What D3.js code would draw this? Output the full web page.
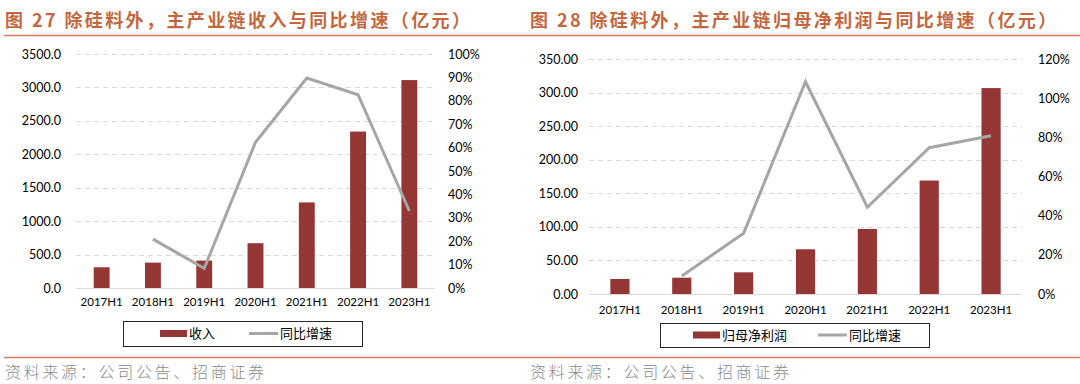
<!DOCTYPE html>
<html>
<head>
<meta charset="utf-8">
<script src="https://cdn.jsdelivr.net/npm/d3@7"></script>
<style>
  body { margin: 0; background: #fff; }
  svg text { font-family: Lato, "Noto Sans CJK SC", sans-serif; }
  .cjk { font-family: "Noto Sans CJK SC", sans-serif; }
</style>
</head>
<body>
<svg id="chart" width="1080" height="384"></svg>
<script>
  // categories shared by both panels
  const categories = ["2017H1", "2018H1", "2019H1", "2020H1", "2021H1", "2022H1", "2023H1"];

  // figure 27: revenue (亿元) and yoy growth (%)
  const revenue = [310, 380, 410, 670, 1280, 2340, 3110];
  const revenueYoY = [null, 20.9, 8.4, 62.3, 89.7, 82.6, 32.9];
  const revenueTicks = [0, 500, 1000, 1500, 2000, 2500, 3000, 3500];
  const revenuePctTicks = [0, 10, 20, 30, 40, 50, 60, 70, 80, 90, 100];

  // figure 28: net profit attributable to parent (亿元) and yoy growth (%)
  const profit = [22.4, 24.3, 32.3, 66.6, 96.9, 169, 306.7];
  const profitYoY = [null, 9.2, 31.0, 108.4, 44.3, 74.7, 80.8];
  const profitTicks = [0, 50, 100, 150, 200, 250, 300, 350];
  const profitPctTicks = [0, 20, 40, 60, 80, 100, 120];

  const titles = ["图 27  除硅料外，主产业链收入与同比增速（亿元）", "图 28  除硅料外，主产业链归母净利润与同比增速（亿元）"];
  const source = "资料来源：公司公告、招商证券";

  const colors = { bar: "#943634", line: "#a6a6a6", grid: "#d9d9d9", title: "#c4673e", rule: "#d27c5c" };

  const svg = d3.select("#chart");

  // header / footer rules across the whole page
  svg.append("line").attr("x1", 4).attr("x2", 1080).attr("y1", 35.5).attr("y2", 35.5)
    .attr("stroke", colors.rule).attr("stroke-width", 1.5);
  svg.append("line").attr("x1", 4).attr("x2", 1080).attr("y1", 357.5).attr("y2", 357.5)
    .attr("stroke", colors.rule).attr("stroke-width", 1.5);

  // draw one bar + line panel
  function drawPanel(p) {
    const g = svg.append("g");

    g.append("text").attr("class", "cjk")
      .attr("x", p.titleX).attr("y", 27)
      .attr("fill", colors.title).style("font-weight", "bold")
      .style("font-size", "18px").style("letter-spacing", "2.4px")
      .text(p.title);

    g.append("text").attr("class", "cjk")
      .attr("x", p.titleX).attr("y", 378)
      .attr("fill", "#8c8c8c").style("font-size", "16px").style("font-weight", 300)
      .style("letter-spacing", "2.7px")
      .text(source);

    const x = d3.scaleBand().domain(categories)
      .range([p.left, p.right]).paddingInner(0.69).paddingOuter(0.345);
    const y = d3.scaleLinear().domain([0, d3.max(p.ticks)]).range([p.bottom, p.top]);
    const y2 = d3.scaleLinear().domain([0, d3.max(p.pctTicks)]).range([p.bottom, p.top]);

    // dashed grid
    g.selectAll(".grid").data(p.ticks.filter(d => d > 0)).enter()
      .append("line")
        .attr("x1", p.left).attr("x2", p.right)
        .attr("y1", d => Math.round(y(d)) + 0.5).attr("y2", d => Math.round(y(d)) + 0.5)
        .attr("stroke", colors.grid).attr("stroke-dasharray", "5,4");
    g.append("line")
      .attr("x1", p.left).attr("x2", p.right)
      .attr("y1", Math.round(y(0)) + 0.5).attr("y2", Math.round(y(0)) + 0.5)
      .attr("stroke", colors.grid);

    // left axis
    const axL = g.append("g").attr("transform", "translate(" + p.leftLabelX + ",0)")
      .call(d3.axisLeft(y).tickValues(p.ticks).tickSize(0).tickPadding(0).tickFormat(d3.format(p.fmt)));
    axL.select(".domain").remove();
    axL.selectAll("text").style("font-size", "12.5px").attr("fill", "#000").style("font-family", "Lato");

    // right axis
    const axR = g.append("g").attr("transform", "translate(" + p.rightLabelX + ",0)")
      .call(d3.axisRight(y2).tickValues(p.pctTicks).tickSize(0).tickPadding(0).tickFormat(d => d + "%"));
    axR.select(".domain").remove();
    axR.selectAll("text").style("font-size", "12.5px").attr("fill", "#000").style("font-family", "Lato");

    // bottom axis labels
    const axB = g.append("g").attr("transform", "translate(0," + p.bottom + ")")
      .call(d3.axisBottom(x).tickSize(0).tickPadding(p.xPad));
    axB.select(".domain").remove();
    axB.selectAll("text").style("font-size", "11.5px").attr("fill", "#000").style("font-family", "Lato");

    // bars
    g.selectAll(".bar").data(p.bars).enter()
      .append("rect")
        .attr("x", (d, i) => x(categories[i]))
        .attr("y", d => y(d))
        .attr("width", x.bandwidth())
        .attr("height", d => y(0) - y(d))
        .attr("fill", colors.bar);

    // yoy line
    const line = d3.line()
      .defined(d => d[1] != null)
      .x(d => x(d[0]) + x.bandwidth() / 2)
      .y(d => y2(d[1]));
    g.append("path")
      .datum(categories.map((c, i) => [c, p.yoy[i]]))
      .attr("d", line)
      .attr("fill", "none")
      .attr("stroke", colors.line)
      .attr("stroke-width", 3)
      .attr("stroke-linejoin", "miter");

    // legend
    const lg = g.append("g");
    lg.append("rect")
      .attr("x", p.legend.x + 0.5).attr("y", p.legend.y + 0.5)
      .attr("width", p.legend.w).attr("height", p.legend.h)
      .attr("fill", "none").attr("stroke", "#262626");
    const cy = p.legend.y + p.legend.h / 2;
    lg.append("rect")
      .attr("x", p.legend.sw1).attr("y", cy - 3.5).attr("width", 27).attr("height", 7)
      .attr("fill", colors.bar);
    lg.append("text").attr("class", "cjk")
      .attr("x", p.legend.sw1 + 29).attr("y", cy).attr("dy", "0.35em")
      .style("font-size", "13px").text(p.barName);
    lg.append("line")
      .attr("x1", p.legend.sw2).attr("x2", p.legend.sw2 + 29)
      .attr("y1", cy).attr("y2", cy)
      .attr("stroke", colors.line).attr("stroke-width", 3);
    lg.append("text").attr("class", "cjk")
      .attr("x", p.legend.sw2 + 31).attr("y", cy).attr("dy", "0.35em")
      .style("font-size", "13px").text("同比增速");
  }

  drawPanel({
    title: titles[0], titleX: 5,
    left: 76, right: 435, top: 54, bottom: 288,
    leftLabelX: 61, rightLabelX: 448, xPad: 10,
    ticks: revenueTicks, pctTicks: revenuePctTicks, fmt: ".1f",
    bars: revenue, yoy: revenueYoY, barName: "收入",
    legend: { x: 123, y: 321, w: 239, h: 25, sw1: 160, sw2: 249 }
  });

  drawPanel({
    title: titles[1], titleX: 530,
    left: 589, right: 1022, top: 59, bottom: 294,
    leftLabelX: 578, rightLabelX: 1038, xPad: 12,
    ticks: profitTicks, pctTicks: profitPctTicks, fmt: ".2f",
    bars: profit, yoy: profitYoY, barName: "归母净利润",
    legend: { x: 660, y: 323, w: 269, h: 24, sw1: 693, sw2: 818 }
  });
</script>
</body>
</html>
